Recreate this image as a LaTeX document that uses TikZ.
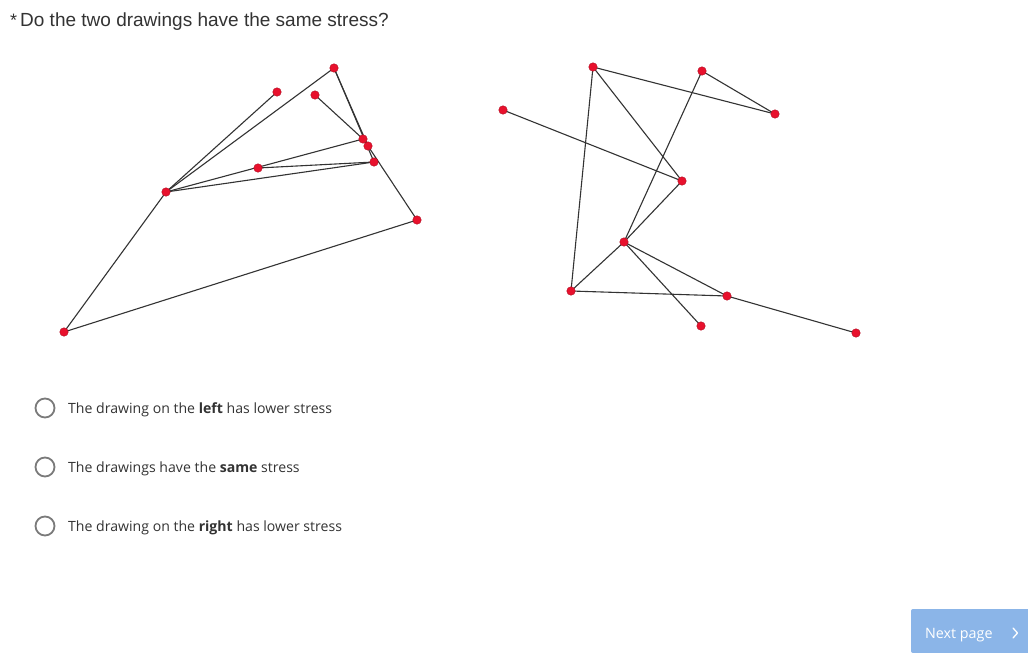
\documentclass[tikz,border=0pt]{standalone}
\usepackage{fontspec}
\setmainfont{Liberation Sans}
\newfontfamily\optfont{Open Sans}
\definecolor{dotred}{HTML}{E8112D}
\definecolor{dotedge}{HTML}{B00A20}
\definecolor{edgegray}{HTML}{333333}
\definecolor{txtgray}{HTML}{333333}
\definecolor{ringgray}{HTML}{7A7A7A}
\definecolor{btnblue}{HTML}{8BB5E8}
\begin{document}
\begin{tikzpicture}[x=1pt,y=-1pt,
  vtx/.style={circle,fill=dotred,draw=dotedge,line width=0.4pt,inner sep=0pt,minimum size=8.5pt},
  edg/.style={draw=edgegray,line width=1.1pt},
  ring/.style={circle,draw=ringgray,line width=1.8pt,minimum size=19pt,inner sep=0pt},
  opt/.style={anchor=base west,inner sep=0pt,font=\optfont\fontsize{14.1}{16}\selectfont,text=txtgray},
]
\useasboundingbox (0,0) rectangle (1028,653);
\fill[white] (0,0) rectangle (1028,653);
% title
\node[anchor=base west,inner sep=0pt,font=\fontsize{18}{21}\selectfont,text=txtgray] (star) at (10,26) {*};
\node[anchor=base west,inner sep=0pt,font=\fontsize{19}{22}\selectfont,text=txtgray] (title) at (20,27) {Do the two drawings have the same stress?};
% left drawing
\coordinate (A) at (64,332);
\coordinate (B) at (166,192);
\coordinate (C) at (277,92);
\coordinate (D) at (334,68);
\coordinate (E) at (315,95);
\coordinate (F) at (363,139);
\coordinate (G) at (368,146);
\coordinate (H) at (374,162);
\coordinate (I) at (258,168);
\coordinate (J) at (417,220);
\draw[edg] (A) -- (B);
\draw[edg] (A) -- (J);
\draw[edg] (B) -- (C);
\draw[edg] (B) -- (D);
\draw[edg] (B) -- (F);
\draw[edg] (B) -- (H);
\draw[edg] (D) -- (H);
\draw[edg] (D) -- (G);
\draw[edg] (E) -- (F);
\draw[edg] (F) -- (G);
\draw[edg] (G) -- (J);
\draw[edg] (H) -- (I);
\foreach \n in {A,B,C,D,E,F,G,H,I,J} \node[vtx] (v\n) at (\n) {};
% right drawing
\coordinate (a) at (503,110);
\coordinate (b) at (593,67);
\coordinate (c) at (702,71);
\coordinate (d) at (775,114);
\coordinate (e) at (682,181);
\coordinate (f) at (624,242);
\coordinate (g) at (571,291);
\coordinate (h) at (727,296);
\coordinate (i) at (701,326);
\coordinate (j) at (856,333);
\draw[edg] (b) -- (d);
\draw[edg] (c) -- (d);
\draw[edg] (a) -- (e);
\draw[edg] (b) -- (e);
\draw[edg] (b) -- (g);
\draw[edg] (c) -- (f);
\draw[edg] (e) -- (f);
\draw[edg] (f) -- (g);
\draw[edg] (f) -- (h);
\draw[edg] (f) -- (i);
\draw[edg] (g) -- (h);
\draw[edg] (h) -- (j);
\foreach \n in {a,b,c,d,e,f,g,h,i,j} \node[vtx] (w\n) at (\n) {};
% options
\node[ring] (r1) at (45,408) {};
\node[ring] (r2) at (45,467) {};
\node[ring] (r3) at (45,526) {};
\node[opt] (o1) at (68,413) {The drawing on the \textbf{left} has lower stress};
\node[opt] (o2) at (68,472) {The drawings have the \textbf{same} stress};
\node[opt] (o3) at (68,531) {The drawing on the \textbf{right} has lower stress};
% next button
\fill[btnblue,rounded corners=2pt] (911,609) rectangle (1034,653);
\node[anchor=base west,inner sep=0pt,text=white,font=\optfont\fontsize{14.3}{16}\selectfont] (next) at (925,638) {Next page};
\draw[white,line width=1.3pt,line cap=round,line join=round] (1013,628) -- (1017.5,633) -- (1013,638);
\end{tikzpicture}
\end{document}
